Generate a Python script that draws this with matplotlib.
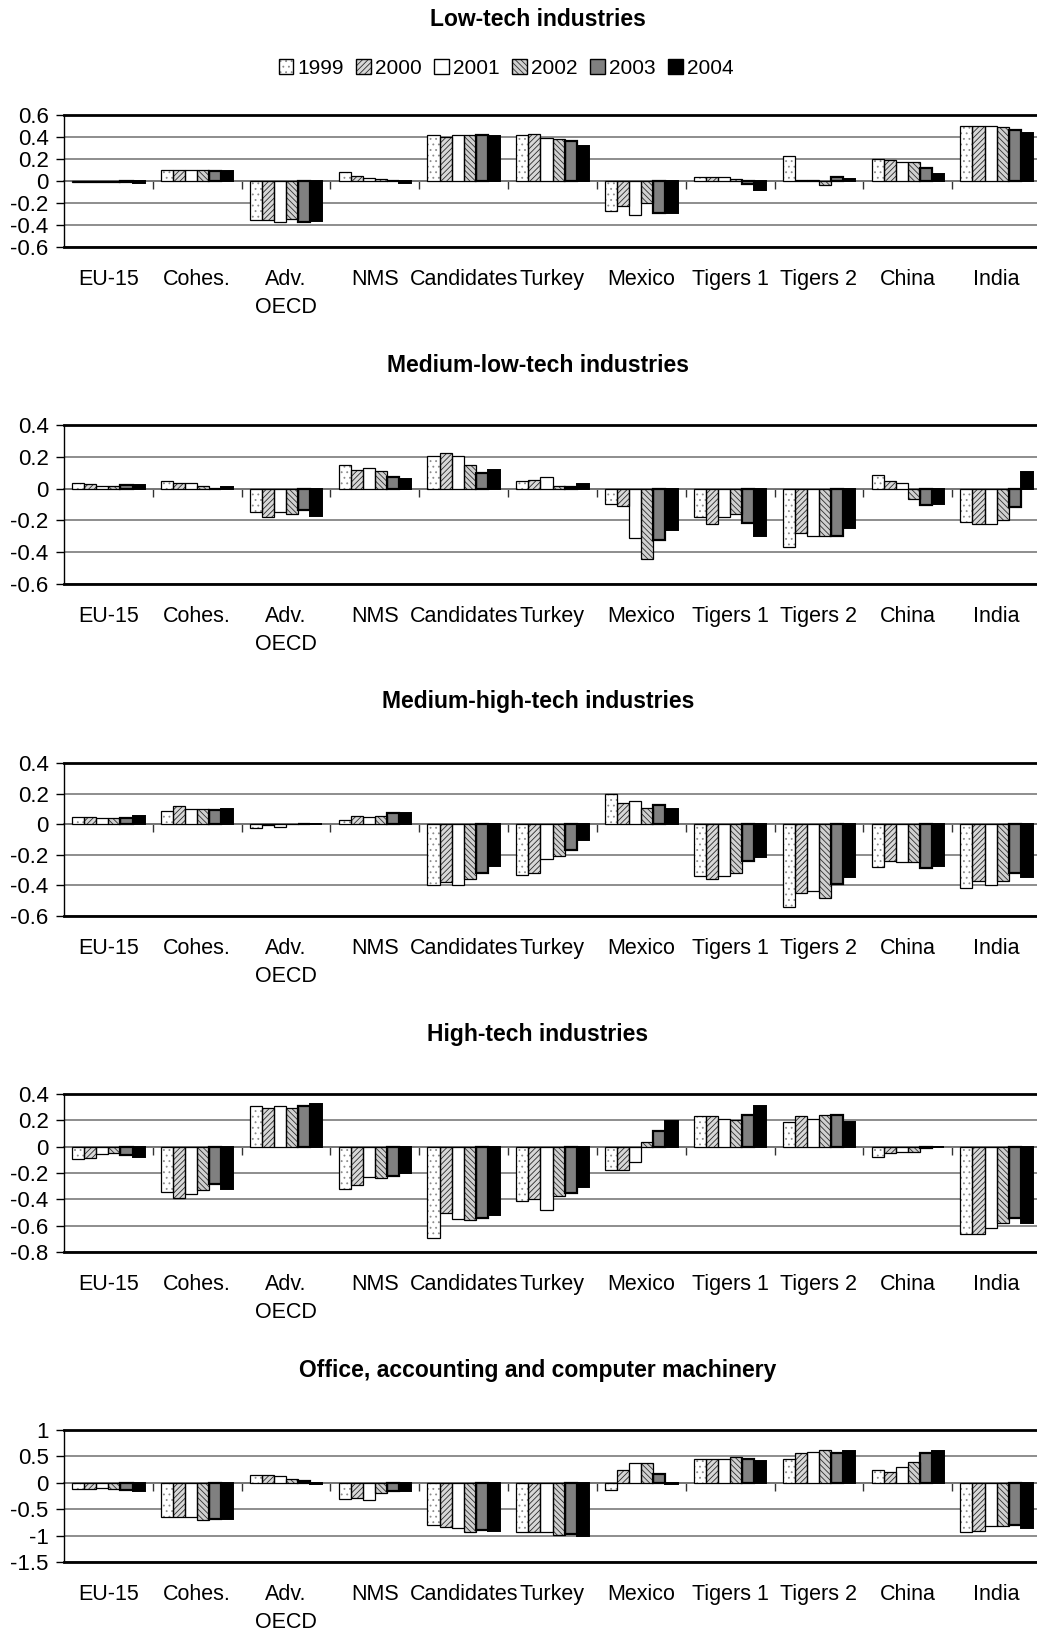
import numpy as np
import matplotlib
matplotlib.use('Agg')
import matplotlib.pyplot as plt
from matplotlib.patches import Patch
from matplotlib.ticker import FuncFormatter

plt.rcParams['font.family'] = ['Liberation Sans', 'DejaVu Sans']
plt.rcParams['hatch.linewidth'] = 0.6

regions = ['EU-15', 'Cohes.', 'Adv.\nOECD', 'NMS', 'Candidates', 'Turkey',
           'Mexico', 'Tigers 1', 'Tigers 2', 'China', 'India']
years = ['1999', '2000', '2001', '2002', '2003', '2004']

titles = ['Low-tech industries', 'Medium-low-tech industries',
          'Medium-high-tech industries', 'High-tech industries',
          'Office, accounting and computer machinery']

# one row per region, one column per year (1999..2004)
low_tech = [
    [-0.005, -0.005, -0.01, -0.008, -0.01, -0.02],
    [0.10, 0.10, 0.10, 0.10, 0.09, 0.09],
    [-0.35, -0.355, -0.37, -0.345, -0.375, -0.365],
    [0.08, 0.05, 0.03, 0.02, 0.0, -0.02],
    [0.42, 0.40, 0.415, 0.42, 0.42, 0.41],
    [0.42, 0.43, 0.39, 0.38, 0.365, 0.32],
    [-0.27, -0.23, -0.31, -0.20, -0.29, -0.29],
    [0.04, 0.035, 0.035, 0.015, -0.025, -0.08],
    [0.23, 0.01, 0.005, -0.04, 0.04, 0.02],
    [0.20, 0.19, 0.17, 0.17, 0.115, 0.065],
    [0.50, 0.50, 0.50, 0.49, 0.46, 0.44],
]
med_low_tech = [
    [0.0375, 0.027, 0.017, 0.017, 0.02, 0.02],
    [0.05, 0.0375, 0.0375, 0.019, 0.0, 0.0125],
    [-0.15, -0.18, -0.15, -0.16, -0.135, -0.175],
    [0.15, 0.117, 0.13, 0.108, 0.07, 0.06],
    [0.206, 0.227, 0.206, 0.15, 0.10, 0.12],
    [0.05, 0.056, 0.075, 0.017, 0.0125, 0.03],
    [-0.10, -0.11, -0.31, -0.44, -0.325, -0.26],
    [-0.18, -0.22, -0.18, -0.16, -0.215, -0.30],
    [-0.37, -0.28, -0.30, -0.30, -0.295, -0.245],
    [0.085, 0.05, 0.0375, -0.0625, -0.104, -0.096],
    [-0.21, -0.22, -0.22, -0.20, -0.115, 0.104],
]
med_high_tech = [
    [0.05, 0.05, 0.041, 0.041, 0.04, 0.052],
    [0.087, 0.117, 0.098, 0.098, 0.09, 0.10],
    [-0.022, -0.008, -0.02, 0.0, 0.0, 0.0],
    [0.028, 0.056, 0.05, 0.056, 0.07, 0.07],
    [-0.40, -0.38, -0.40, -0.36, -0.32, -0.276],
    [-0.33, -0.32, -0.23, -0.21, -0.17, -0.10],
    [0.196, 0.137, 0.15, 0.109, 0.126, 0.10],
    [-0.34, -0.36, -0.34, -0.32, -0.24, -0.217],
    [-0.54, -0.45, -0.435, -0.48, -0.39, -0.345],
    [-0.28, -0.243, -0.25, -0.25, -0.285, -0.276],
    [-0.42, -0.37, -0.40, -0.37, -0.32, -0.345],
]
high_tech = [
    [-0.096, -0.089, -0.058, -0.05, -0.063, -0.076],
    [-0.347, -0.39, -0.362, -0.33, -0.28, -0.324],
    [0.311, 0.29, 0.31, 0.29, 0.31, 0.326],
    [-0.32, -0.29, -0.23, -0.24, -0.225, -0.197],
    [-0.69, -0.50, -0.55, -0.56, -0.54, -0.516],
    [-0.41, -0.40, -0.48, -0.375, -0.35, -0.306],
    [-0.177, -0.177, -0.12, 0.033, 0.12, 0.197],
    [0.23, 0.23, 0.21, 0.20, 0.238, 0.306],
    [0.185, 0.23, 0.21, 0.24, 0.243, 0.187],
    [-0.08, -0.048, -0.04, -0.04, -0.01, 0.0],
    [-0.66, -0.66, -0.62, -0.58, -0.54, -0.577],
]
office_machinery = [
    [-0.12, -0.108, -0.09, -0.108, -0.127, -0.158],
    [-0.65, -0.64, -0.64, -0.70, -0.68, -0.69],
    [0.139, 0.139, 0.12, 0.07, 0.038, -0.025],
    [-0.316, -0.28, -0.335, -0.20, -0.158, -0.152],
    [-0.80, -0.84, -0.85, -0.94, -0.89, -0.92],
    [-0.93, -0.94, -0.94, -0.99, -0.97, -1.00],
    [-0.14, 0.234, 0.367, 0.367, 0.165, -0.02],
    [0.443, 0.46, 0.46, 0.49, 0.456, 0.418],
    [0.46, 0.557, 0.58, 0.63, 0.57, 0.60],
    [0.234, 0.20, 0.29, 0.40, 0.557, 0.595],
    [-0.93, -0.905, -0.816, -0.816, -0.80, -0.85],
]
panels = [low_tech, med_low_tech, med_high_tech, high_tech, office_machinery]

y_limits = [(-0.6, 0.6), (-0.6, 0.4), (-0.6, 0.4), (-0.8, 0.4), (-1.5, 1.0)]
y_steps = [0.2, 0.2, 0.2, 0.2, 0.5]

# bar styles per year
faces = ['white', '#d8d8d8', 'white', '#d0d0d0', '#808080', 'black']
hatches = ['...', '//////', None, '\\\\\\\\\\\\', None, None]
hatch_cols = ['#8c8c8c', '#2a2a2a', 'white', '#303030', '#808080', 'black']
edge_w = [0.9, 0.9, 0.9, 0.9, 1.6, 1.4]

W, H = 1037, 1630
fig = plt.figure(figsize=(W / 100, H / 100), dpi=100)

axes_px = [(115, 247), (425, 584), (763, 916), (1094, 1252), (1430, 1562)]
title_px = [20, 366, 702, 1035, 1370]
left_px, width_px = 64, 977

x = np.arange(len(regions))
bw = 0.136


def fmt(v, pos):
    return '%g' % (round(v, 2) + 0.0)


for k, data in enumerate(panels):
    vals = np.array(data)
    top, bot = axes_px[k]
    ax = fig.add_axes([left_px / W, 1 - bot / H, width_px / W, (bot - top) / H])

    for j in range(len(years)):
        xs = x + (j - 2.5) * bw
        ax.bar(xs, vals[:, j], bw, color=faces[j], edgecolor=hatch_cols[j],
               hatch=hatches[j], linewidth=0, zorder=2)
        ax.bar(xs, vals[:, j], bw, fill=False, edgecolor='black',
               linewidth=edge_w[j], zorder=3)

    lo, hi = y_limits[k]
    ax.set_ylim(lo, hi)
    ax.set_xlim(-0.5, len(regions) - 0.5)
    ax.set_yticks(np.arange(lo, hi + 1e-9, y_steps[k]))
    ax.yaxis.set_major_formatter(FuncFormatter(fmt))
    ax.yaxis.grid(True, color='#7a7a7a', linewidth=1.2)
    ax.set_axisbelow(True)

    ax.set_xticks(x)
    ax.set_xticklabels(regions, fontsize=15.5, linespacing=1.4)
    ax.tick_params(axis='x', length=0, pad=16)
    ax.tick_params(axis='y', direction='out', length=6, width=1,
                   labelsize=16, pad=5)

    for s in ['top', 'bottom']:
        ax.spines[s].set_linewidth(2)
        ax.spines[s].set_color('black')
    ax.spines['left'].set_linewidth(1)
    ax.spines['right'].set_visible(False)

    # category axis at zero with tick marks between groups
    zero_frac = (0 - lo) / (hi - lo)
    sec = ax.secondary_xaxis(zero_frac)
    sec.set_alignment('bottom')
    sec.set_xticks(np.arange(0.5, len(regions) - 0.5, 1.0))
    sec.tick_params(axis='x', direction='out', length=6, width=1,
                    color='#333333', labelbottom=False, labeltop=False)
    sec.spines['bottom'].set_color('#555555')
    sec.spines['bottom'].set_linewidth(1.2)

    fig.text(538 / W, 1 - title_px[k] / H, titles[k], ha='center', va='center',
             fontsize=16.5, fontweight='bold')

handles = []
for j in range(len(years)):
    hp = Patch(facecolor=faces[j], edgecolor=hatch_cols[j], hatch=hatches[j], linewidth=0)
    op = Patch(fill=False, edgecolor='black', linewidth=1.0)
    handles.append((hp, op))

fig.legend(handles, years, loc='center', bbox_to_anchor=(506 / W, 1 - 68 / H),
           ncol=6, frameon=False, fontsize=15, handlelength=0.7,
           handleheight=0.7, handletextpad=0.2, columnspacing=0.6,
           borderpad=0)

fig.savefig('out.png', dpi=100)
